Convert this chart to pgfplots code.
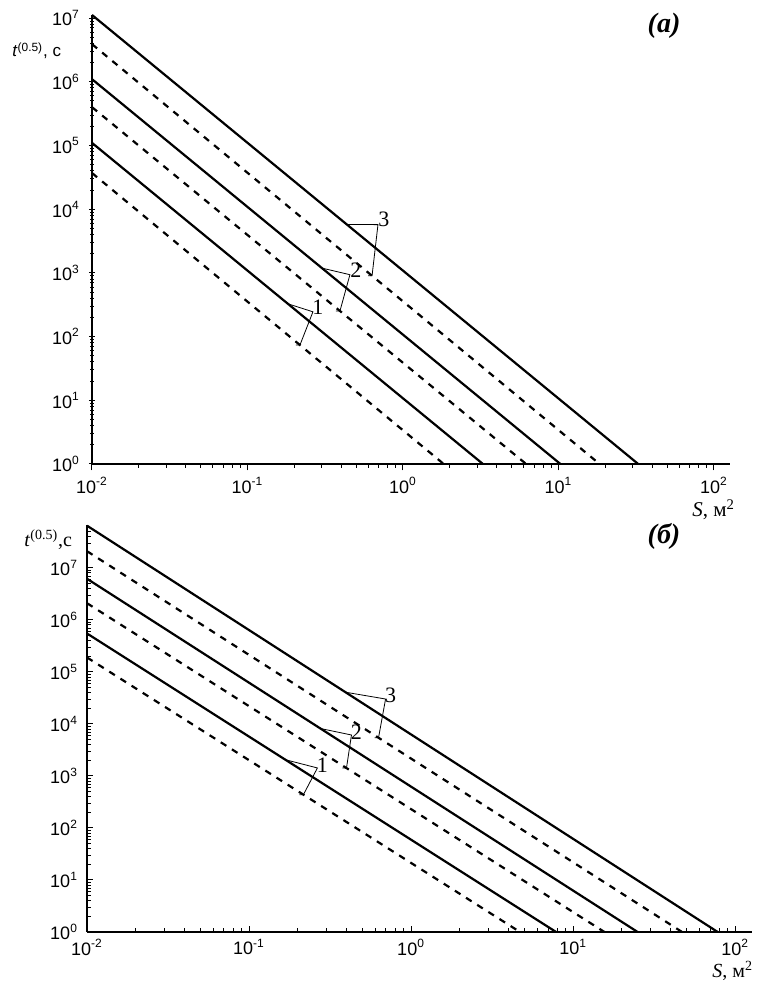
\documentclass[border=0pt]{standalone}
\usepackage{pgfplots}
\pgfplotsset{compat=1.18}
\usepackage{fontspec}
\setmainfont{Liberation Serif}
\setsansfont{Liberation Sans}

\newcommand{\tl}[1]{10\textsuperscript{#1}}
\newcommand{\lbl}{\fontsize{11}{12}\selectfont}

\pgfplotsset{
  panel/.style={
    scale only axis, anchor=south west,
    axis lines=left,
    axis line style={-, line width=0.9pt},
    every tick/.style={black, line width=0.5pt},
    major tick length=3.2pt, minor tick length=1.8pt,
    xmin=0.01, xmax=127, ymin=1,
    xtick={0.01,0.1,1,10,100},
    xticklabels={\tl{-2},\tl{-1},\tl{0},\tl{1},\tl{2}},
    minor xtick={0.02,0.03,0.04,0.05,0.06,0.07,0.08,0.09,
                 0.2,0.3,0.4,0.5,0.6,0.7,0.8,0.9,
                 2,3,4,5,6,7,8,9,20,30,40,50,60,70,80,90},
    tick label style={font=\sffamily\fontsize{9}{10}\selectfont},
    yticklabel style={xshift=-1pt},
  },
}
\tikzset{
  sol/.style={black, line width=1.1pt},
  das/.style={black, line width=1.1pt, dash pattern=on 3.3pt off 3.3pt},
  lead/.style={black, line width=0.4pt},
}

\begin{document}
\begin{tikzpicture}
\path[use as bounding box] (0,0) rectangle (378pt,491.5pt);

% panel (a)
\begin{loglogaxis}[panel,
  at={(46pt,259.5pt)}, width=319pt, height=224.5pt,
  ymax=1.12e7,
  xtick align=outside, ytick align=center,
  ytick={1,10,100,1000,1e4,1e5,1e6,1e7},
  yticklabels={\tl{0},\tl{1},\tl{2},\tl{3},\tl{4},\tl{5},\tl{6},\tl{7}},
  minor ytick={2,3,4,5,6,7,8,9,20,30,40,50,60,70,80,90,
    200,300,400,500,600,700,800,900,2000,3000,4000,5000,6000,7000,8000,9000,
    2e4,3e4,4e4,5e4,6e4,7e4,8e4,9e4,2e5,3e5,4e5,5e5,6e5,7e5,8e5,9e5,
    2e6,3e6,4e6,5e6,6e6,7e6,8e6,9e6},
]
\addplot[sol] coordinates {(0.01,1.1e5) (3.27,1)};
\addplot[sol] coordinates {(0.01,1.1e6) (10.3,1)};
\addplot[sol] coordinates {(0.01,1.12e7) (32.6,1)};
\addplot[das] coordinates {(0.01,3.7e4) (1.83,1)};
\addplot[das] coordinates {(0.01,4.0e5) (6.2,1)};
\addplot[das] coordinates {(0.01,3.9e6) (18.4,1)};

\draw[lead] (axis cs:0.436,5745) -- (axis cs:0.691,5730) -- (axis cs:0.633,901) -- ([xshift=-2pt]axis cs:0.633,901);
\node[font=\lbl, inner sep=0] at (axis cs:0.755,6860) {3};
\draw[lead] (axis cs:0.3013,1190) -- (axis cs:0.456,937) -- (axis cs:0.3935,252) -- ([xshift=-2pt]axis cs:0.3935,252);
\node[font=\lbl, inner sep=0] at (axis cs:0.498,1083) {2};
\draw[lead] (axis cs:0.1822,327) -- (axis cs:0.2637,245) -- (axis cs:0.2176,73.7) -- ([xshift=-2pt]axis cs:0.2176,73.7);
\node[font=\lbl, inner sep=0] at (axis cs:0.284,284) {1};
\end{loglogaxis}

% panel (b)
\begin{loglogaxis}[panel,
  at={(43.5pt,25.5pt)}, width=332.5pt, height=203.5pt,
  ymax=6.7e7,
  tick align=inside,
  ytick={1,10,100,1000,1e4,1e5,1e6,1e7},
  yticklabels={\tl{0},\tl{1},\tl{2},\tl{3},\tl{4},\tl{5},\tl{6},\tl{7}},
  minor ytick={2,3,4,5,6,7,8,9,20,30,40,50,60,70,80,90,
    200,300,400,500,600,700,800,900,2000,3000,4000,5000,6000,7000,8000,9000,
    2e4,3e4,4e4,5e4,6e4,7e4,8e4,9e4,2e5,3e5,4e5,5e5,6e5,7e5,8e5,9e5,
    2e6,3e6,4e6,5e6,6e6,7e6,8e6,9e6,2e7,3e7,4e7,5e7,6e7},
]
\addplot[sol] coordinates {(0.01,5.5e5) (7.85,1)};
\addplot[sol] coordinates {(0.01,6.2e6) (25,1)};
\addplot[sol] coordinates {(0.01,6.5e7) (78,1)};
\addplot[das] coordinates {(0.01,1.9e5) (4.7,1)};
\addplot[das] coordinates {(0.01,2.1e6) (15.6,1)};
\addplot[das] coordinates {(0.01,2.1e7) (47,1)};

\draw[lead] (axis cs:0.3937,40800) -- (axis cs:0.696,30200) -- (axis cs:0.6296,5430) -- ([xshift=-2pt]axis cs:0.6296,5430);
\node[font=\lbl, inner sep=0] at (axis cs:0.747,36100) {3};
\draw[lead] (axis cs:0.2758,8180) -- (axis cs:0.4286,6140) -- (axis cs:0.3993,1419) -- ([xshift=-2pt]axis cs:0.3993,1419);
\node[font=\lbl, inner sep=0] at (axis cs:0.4603,7020) {2};
\draw[lead] (axis cs:0.1675,2056) -- (axis cs:0.2642,1426) -- (axis cs:0.2165,437) -- ([xshift=-2pt]axis cs:0.2165,437);
\node[font=\lbl, inner sep=0] at (axis cs:0.2837,1628) {1};
\end{loglogaxis}

% axis titles and panel letters
\node[anchor=base west, inner sep=0, font=\sffamily\fontsize{8.5}{10}\selectfont]
  at (6pt,463pt) {\textit{t}\textsuperscript{(0.5)}, с};
\node[anchor=base west, inner sep=0, font=\fontsize{10}{12}\selectfont]
  at (12pt,218pt) {\textit{t}\textsuperscript{(0.5)},с};
\node[anchor=base west, inner sep=0, font=\fontsize{10.5}{12}\selectfont]
  at (346pt,233pt) {\textit{S}, м\textsuperscript{2}};
\node[anchor=base west, inner sep=0, font=\fontsize{10}{12}\selectfont]
  at (356pt,2.5pt) {\textit{S}, м\textsuperscript{2}};
\node[inner sep=0, font=\bfseries\itshape\fontsize{14}{16}\selectfont]
  at (332pt,478.5pt) {(а)};
\node[inner sep=0, font=\bfseries\itshape\fontsize{14}{16}\selectfont]
  at (332pt,223.5pt) {(б)};
\end{tikzpicture}
\end{document}
